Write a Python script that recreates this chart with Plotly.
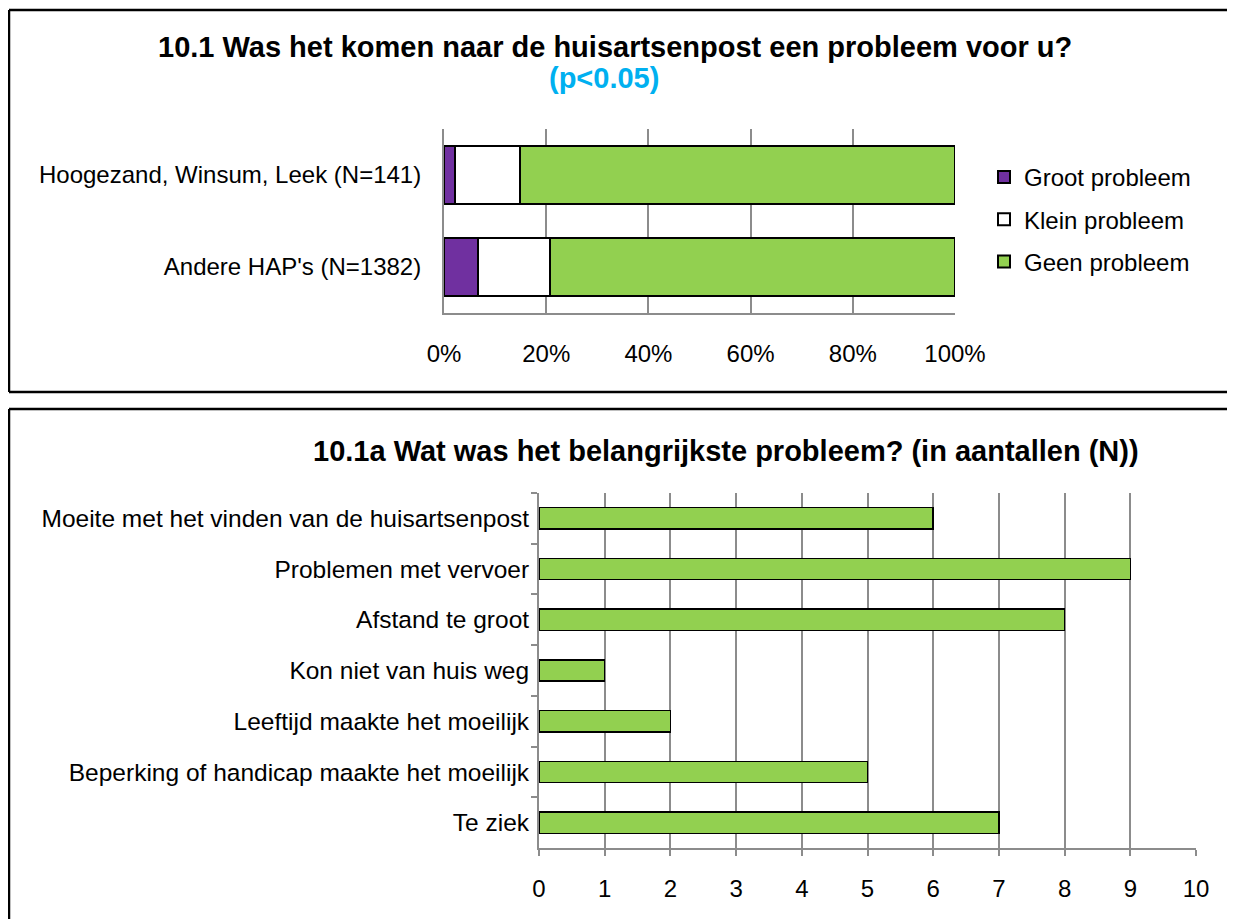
import plotly.graph_objects as go

# top chart: share per answer (%)
groups = ["Hoogezand, Winsum, Leek (N=141)", "Andere HAP's (N=1382)"]
groot = [2.1, 6.7]
klein = [12.8, 14.1]
geen = [85.1, 79.2]

# bottom chart: counts per main problem
problems = ["Moeite met het vinden van de huisartsenpost",
            "Problemen met vervoer",
            "Afstand te groot",
            "Kon niet van huis weg",
            "Leeftijd maakte het moeilijk",
            "Beperking of handicap maakte het moeilijk",
            "Te ziek"]
counts = [6, 9, 8, 1, 2, 5, 7]

W, H = 1235, 919
OFF = 8  # page body margin
FONT = "Liberation Sans, Arial, sans-serif"
GRID = "#8c8c8c"

def px(x):
    return (x - OFF) / W

def py(y):
    return 1 - (y - OFF) / H

fig = go.Figure()

for name, vals, col, grp in [("Groot probleem", groot, "#7030A0", "a"),
                             ("Klein probleem", klein, "#FFFFFF", "b"),
                             ("Geen probleem", geen, "#92D050", "c")]:
    fig.add_trace(go.Bar(y=groups, x=vals, name=name, orientation="h",
                         marker=dict(color=col, line=dict(color="black", width=2)),
                         legendgroup=grp, xaxis="x", yaxis="y"))

fig.add_trace(go.Bar(y=problems, x=counts, orientation="h", showlegend=False,
                     marker=dict(color="#92D050", line=dict(color="black", width=1.5)),
                     width=0.42, xaxis="x2", yaxis="y2"))

fig.update_layout(
    width=W, height=H,
    margin=dict(l=0, r=0, t=0, b=0, autoexpand=False),
    paper_bgcolor="white", plot_bgcolor="white",
    font=dict(family=FONT, size=24, color="black"),
    barmode="stack",
    bargap=0.37,
    xaxis=dict(domain=[px(444), px(955)], anchor="y", range=[0, 100], dtick=20,
               ticksuffix="%", showgrid=True, gridcolor=GRID, gridwidth=1.5,
               showline=True, linecolor=GRID, linewidth=1.5, ticks="",
               ticklabelstandoff=18, zeroline=False, automargin=False),
    yaxis=dict(domain=[py(313), py(129)], anchor="x", autorange="reversed",
               showline=True, linecolor=GRID, linewidth=2, ticks="",
               ticklabelstandoff=16, automargin=False),
    xaxis2=dict(domain=[px(539), px(1196)], anchor="y2", range=[0, 10], dtick=1,
                showgrid=True, gridcolor=GRID, gridwidth=1.5,
                showline=True, linecolor=GRID, linewidth=1.5,
                ticks="outside", ticklen=6, tickcolor=GRID, tickwidth=1.5,
                ticklabelstandoff=12, zeroline=False, automargin=False),
    yaxis2=dict(domain=[py(848), py(493)], anchor="x2", autorange="reversed",
                showline=True, linecolor=GRID, linewidth=2,
                ticks="outside", ticklen=6, tickcolor=GRID, tickwidth=1.5,
                tickson="boundaries", ticklabelstandoff=3, automargin=False,
                tickfont=dict(size=24.5)),
    legend=dict(x=px(984), y=py(155), xanchor="left", yanchor="top",
                traceorder="grouped", tracegroupgap=8,
                font=dict(size=24), itemwidth=30, bgcolor="rgba(0,0,0,0)"),
    showlegend=True,
)

# panel borders (open on the right, like the cropped original)
for x0, y0, x1, y1 in [(9, 10, 1300, 10), (9, 10, 9, 392), (9, 392, 1300, 392),
                       (9, 409, 1300, 409), (9, 409, 9, 1000)]:
    fig.add_shape(type="line", xref="paper", yref="paper",
                  x0=px(x0), x1=px(x1), y0=py(y0), y1=py(y1),
                  line=dict(color="black", width=2.5))

fig.add_annotation(text="<b>10.1 Was het komen naar de huisartsenpost een probleem voor u?</b>",
                   xref="paper", yref="paper", x=px(615), y=py(47),
                   xanchor="center", yanchor="middle",
                   showarrow=False, font=dict(size=29))
fig.add_annotation(text="<b>(p<0.05)</b>",
                   xref="paper", yref="paper", x=px(604), y=py(78),
                   xanchor="center", yanchor="middle",
                   showarrow=False, font=dict(size=29, color="#00B0F0"))
fig.add_annotation(text="<b>10.1a Wat was het belangrijkste probleem? (in aantallen (N))</b>",
                   xref="paper", yref="paper", x=px(726), y=py(451),
                   xanchor="center", yanchor="middle",
                   showarrow=False, font=dict(size=29))

fig.write_html("out.html")
